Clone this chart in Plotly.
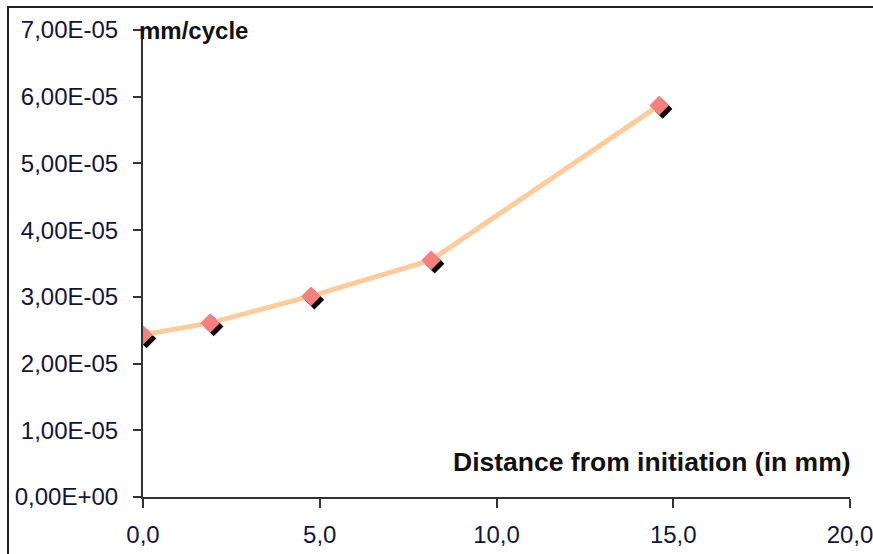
import plotly.graph_objects as go

# Crack growth rate versus distance from initiation
distance_mm = [0.0, 1.9, 4.75, 8.15, 14.6]
rate_mm_per_cycle = [2.43e-05, 2.61e-05, 3.01e-05, 3.55e-05, 5.87e-05]

x_tickvals = [0, 5, 10, 15, 20]
x_ticktext = ["0,0", "5,0", "10,0", "15,0", "20,0"]
y_tickvals = [0, 1e-05, 2e-05, 3e-05, 4e-05, 5e-05, 6e-05, 7e-05]
y_ticktext = ["0,00E+00", "1,00E-05", "2,00E-05", "3,00E-05",
              "4,00E-05", "5,00E-05", "6,00E-05", "7,00E-05"]

W, H = 873, 554
ML, MR, MT, MB = 143, 23, 30, 57
plot_w = W - ML - MR
plot_h = H - MT - MB

x_range = [0, 20]
y_range = [0, 7e-05]

# drop-shadow offset in pixels (right, down), converted to data units
sx, sy = 3.5, 3.5
dx = sx / plot_w * (x_range[1] - x_range[0])
dy = sy / plot_h * (y_range[1] - y_range[0])

font_family = "Liberation Sans, Arial, sans-serif"
tick_font = dict(family=font_family, size=24, color="#14143a")
axis_col = "#333333"

fig = go.Figure()

# shadow markers on a hidden, shifted axis pair
fig.add_trace(go.Scatter(
    x=distance_mm, y=rate_mm_per_cycle, mode="markers",
    marker=dict(symbol="diamond", size=15, color="#000000"),
    xaxis="x", yaxis="y", showlegend=False, hoverinfo="skip",
))

# series line and markers on the visible axes
fig.add_trace(go.Scatter(
    x=distance_mm, y=rate_mm_per_cycle, mode="lines+markers",
    line=dict(color="#FFCC99", width=5),
    marker=dict(symbol="diamond", size=15, color="#F77F7F",
                line=dict(width=0)),
    xaxis="x2", yaxis="y2", showlegend=False,
))

fig.update_layout(
    width=W, height=H,
    margin=dict(l=ML, r=MR, t=MT, b=MB, autoexpand=False),
    paper_bgcolor="white", plot_bgcolor="white",
    xaxis=dict(range=[x_range[0] - dx, x_range[1] - dx], visible=False,
               automargin=False),
    yaxis=dict(range=[y_range[0] + dy, y_range[1] + dy], visible=False,
               automargin=False),
    xaxis2=dict(
        range=x_range, overlaying="x", side="bottom", automargin=False,
        tickvals=x_tickvals, ticktext=x_ticktext,
        showgrid=False, zeroline=False,
        showline=True, linecolor=axis_col, linewidth=2,
        ticks="outside", ticklen=9, tickwidth=2, tickcolor=axis_col,
        tickfont=tick_font, ticklabelstandoff=6, ticklabeloverflow="allow",
    ),
    yaxis2=dict(
        range=y_range, overlaying="y", side="left", automargin=False,
        tickvals=y_tickvals, ticktext=y_ticktext,
        showgrid=False, zeroline=False,
        showline=True, linecolor=axis_col, linewidth=2,
        ticks="outside", ticklen=8, tickwidth=2, tickcolor=axis_col,
        tickfont=tick_font, ticklabelstandoff=10, ticklabeloverflow="allow",
    ),
    annotations=[
        dict(text="<b>mm/cycle</b>", xref="paper", yref="paper",
             x=(137 - ML) / plot_w, y=1.0, xanchor="left", yanchor="middle",
             showarrow=False,
             font=dict(family=font_family, size=24, color="#111111")),
        dict(text="<b>Distance from initiation (in mm)</b>", xref="paper", yref="paper",
             x=(853 - ML) / plot_w, y=(H - MB - 462) / plot_h,
             xanchor="right", yanchor="middle", showarrow=False,
             font=dict(family=font_family, size=26.5, color="#111111")),
    ],
    shapes=[
        dict(type="rect", xref="paper", yref="paper",
             x0=(8 - ML) / plot_w, x1=(885 - ML) / plot_w,
             y0=(H - MB - 570) / plot_h, y1=(H - MB - 7) / plot_h,
             line=dict(color="#222222", width=2), fillcolor="rgba(0,0,0,0)",
             layer="below"),
    ],
)

fig.write_html("out.html")
